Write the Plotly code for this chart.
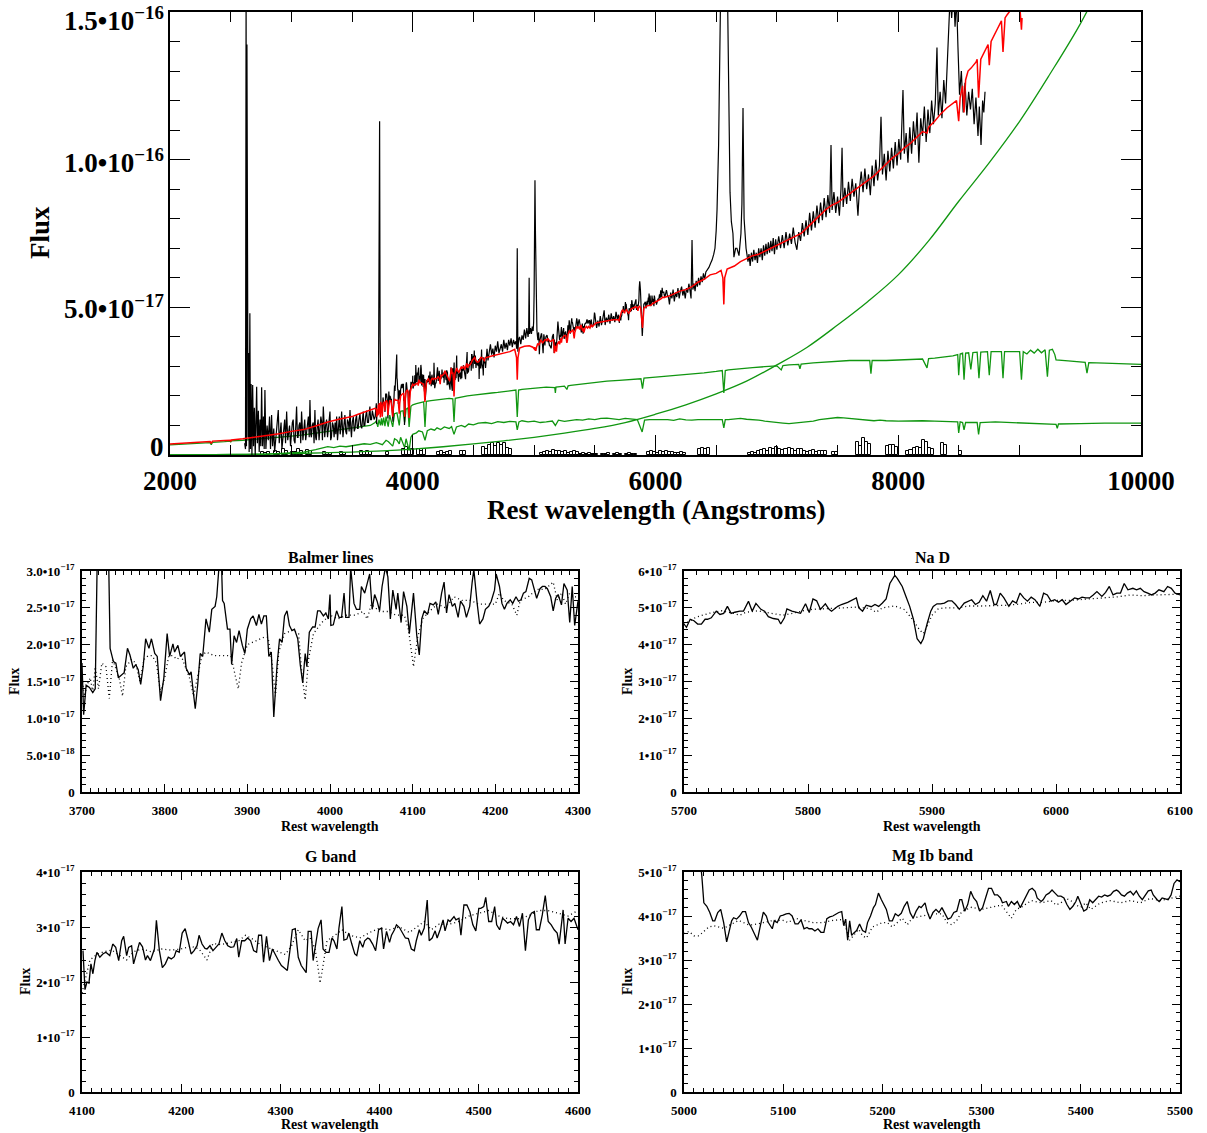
import plotly.graph_objects as go

# ---------------------------------------------------------------------------
# Flux values are in units of 1e-17 (erg/s/cm^2/A); wavelengths in Angstroms.
# ---------------------------------------------------------------------------

# ---- observed spectrum, blue end (continuum noise + MgII region) ----
obs_blue_lam = [2615, 2622, 2627, 2630, 2634, 2638, 2643, 2648, 2652, 2658, 2663, 2668, 2675, 2681, 2688, 2695,
                2702, 2708, 2714, 2720, 2728, 2735, 2742, 2748, 2755, 2762, 2770, 2776, 2782, 2790, 2800, 2810,
                2820, 2828, 2837, 2845, 2855, 2862, 2870, 2880, 2892, 2900, 2908, 2915, 2922, 2930, 2945, 2952,
                2961, 2970, 2978, 2985, 2993, 3000, 3008, 3015, 3022, 3030, 3043, 3050, 3055, 3063, 3070, 3077,
                3084, 3095, 3103, 3110, 3118, 3125, 3133, 3140, 3147, 3153, 3160, 3165, 3172, 3180, 3187, 3194,
                3200, 3205, 3212, 3220, 3228, 3235, 3243, 3250, 3256, 3263, 3270, 3275, 3282, 3290, 3298, 3305,
                3312, 3318, 3324, 3330, 3338, 3345, 3352, 3360, 3366, 3373, 3380, 3388, 3395, 3402, 3408, 3414,
                3420, 3425, 3433, 3441, 3448, 3455, 3462, 3470, 3476, 3483, 3490, 3495, 3502, 3510, 3518, 3525,
                3530, 3537, 3544, 3550, 3557, 3565, 3572, 3580, 3586, 3592, 3598, 3605, 3612, 3620, 3627, 3635,
                3641, 3647, 3653, 3660, 3667, 3675, 3682, 3690, 3696]
obs_blue_flux = [0.4, 0.2, 16.0, 0.3, 13.9, 5.9, 0.6, 3.45, 0.1, 4.8, 0.2, 2.4, 0.0, 2.37, 0.3, 1.6,
                 0.0, 1.1, 2.31, 0.4, 1.5, 0.1, 1.2, 0.3, 2.29, 0.3, 1.3, 0.2, 2.2, 0.2, 1.0, 0.5,
                 1.3, 0.2, 1.35, 0.3, 0.9, 0.1, 0.5, 1.1, 1.52, 0.4, 0.9, 1.1, 0.2, 0.6, 1.2, 0.4,
                 1.47, 0.5, 0.9, 1.0, 0.3, 0.7, 1.1, 1.2, 0.5, 0.4, 1.64, 0.6, 0.6, 1.0, 1.1, 0.4,
                 1.47, 0.5, 0.9, 1.2, 0.5, 0.7, 1.0, 1.3, 0.6, 1.86, 0.7, 0.6, 1.0, 1.1, 0.4, 1.52,
                 0.6, 0.5, 0.9, 1.2, 0.5, 0.8, 1.3, 1.1, 0.5, 1.64, 0.7, 0.6, 1.0, 1.2, 0.6, 0.9,
                 1.2, 1.47, 0.5, 0.6, 1.1, 1.0, 0.6, 1.1, 0.7, 1.3, 0.5, 0.9, 1.3, 0.7, 0.9, 1.47,
                 0.8, 0.6, 1.0, 1.35, 0.8, 0.7, 1.2, 1.1, 0.8, 1.52, 0.9, 0.6, 1.1, 1.3, 0.8, 0.9,
                 1.2, 1.35, 0.9, 0.9, 1.2, 1.4, 1.0, 0.9, 1.2, 1.47, 1.0, 1.0, 1.3, 1.5, 1.1, 1.1,
                 1.4, 1.64, 1.2, 1.2, 1.5, 1.35, 1.2, 1.3, 1.5]

# ---- Balmer-line window (3700-4300 A) ----
balmer_obs_lam = [3700, 3702, 3705, 3709, 3713, 3716, 3719, 3723, 3727, 3731, 3734, 3738, 3741, 3744, 3748, 3751,
                  3755, 3758, 3762, 3765, 3768, 3771, 3774, 3777, 3781, 3784, 3788, 3791, 3795, 3799, 3803, 3806,
                  3810, 3812, 3816, 3819, 3824, 3826, 3830, 3832, 3834, 3837, 3840, 3843, 3846, 3850, 3854, 3857,
                  3861, 3863, 3866, 3868, 3870, 3872, 3876, 3879, 3881, 3884, 3887, 3890, 3894, 3897, 3900, 3904,
                  3907, 3911, 3914, 3917, 3920, 3923, 3926, 3929, 3932, 3936, 3939, 3942, 3945, 3948, 3951, 3954,
                  3957, 3961, 3964, 3967, 3970, 3972, 3975, 3979, 3982, 3985, 3988, 3992, 3995, 3998, 4000, 4001,
                  4004, 4008, 4011, 4014, 4017, 4019, 4023, 4025, 4029, 4032, 4036, 4038, 4042, 4045, 4048, 4051,
                  4054, 4057, 4060, 4063, 4067, 4070, 4073, 4076, 4080, 4082, 4086, 4089, 4093, 4096, 4098, 4101,
                  4105, 4108, 4111, 4114, 4118, 4121, 4125, 4128, 4131, 4135, 4138, 4141, 4144, 4148, 4151, 4155,
                  4158, 4162, 4165, 4169, 4172, 4174, 4178, 4181, 4185, 4188, 4192, 4195, 4199, 4201, 4205, 4208,
                  4211, 4214, 4218, 4221, 4225, 4228, 4231, 4234, 4237, 4241, 4244, 4247, 4250, 4254, 4257, 4260,
                  4263, 4267, 4270, 4273, 4276, 4280, 4283, 4287, 4290, 4293, 4296, 4300]
balmer_obs_flux = [1.75, 1.05, 1.45, 1.42, 1.35, 1.40, 3.60, 7.5, 11.3, 4.0, 1.95, 1.77, 1.75, 1.55, 1.59, 1.62,
                   1.95, 1.86, 1.68, 1.73, 1.66, 1.46, 1.70, 2.08, 1.95, 2.08, 1.88, 1.84, 1.24, 1.55, 2.15, 1.84,
                   2.01, 1.90, 1.99, 1.84, 1.90, 1.68, 1.59, 1.63, 1.42, 1.13, 1.46, 1.88, 1.84, 2.35, 2.17, 2.48,
                   2.52, 2.65, 3.10, 3.40, 2.60, 2.56, 2.21, 2.21, 1.73, 2.12, 2.03, 2.19, 1.99, 1.88, 2.21, 2.35,
                   2.39, 2.26, 2.41, 2.28, 2.39, 2.39, 1.84, 1.90, 1.02, 1.73, 2.08, 2.03, 2.39, 2.46, 2.26, 2.19,
                   2.21, 2.08, 1.73, 1.48, 1.88, 1.70, 2.17, 2.24, 2.24, 2.46, 2.46, 2.39, 2.43, 2.35, 2.68, 2.26,
                   2.27, 2.46, 2.37, 2.37, 2.70, 2.37, 2.37, 3.05, 2.56, 2.48, 2.48, 2.79, 2.70, 2.83, 2.96, 2.48,
                   2.68, 2.59, 2.46, 2.79, 3.05, 2.92, 2.35, 2.74, 2.48, 2.70, 2.30, 2.72, 2.52, 2.15, 2.39, 2.70,
                   2.12, 1.86, 2.35, 2.46, 2.41, 2.56, 2.54, 2.58, 2.41, 2.70, 2.85, 2.43, 2.68, 2.52, 2.56, 2.37,
                   2.59, 2.52, 2.37, 2.52, 2.85, 3.02, 2.56, 2.28, 2.35, 2.48, 2.52, 2.59, 2.74, 2.96, 2.79, 2.56,
                   2.48, 2.56, 2.61, 2.56, 2.65, 2.59, 2.61, 2.70, 2.72, 2.90, 2.88, 2.74, 2.63, 2.76, 2.79, 2.79,
                   2.76, 2.65, 2.46, 2.63, 2.68, 2.54, 2.83, 2.74, 2.30, 2.79, 2.26, 2.59]
balmer_model_lam = [3700, 3703, 3706, 3710, 3713, 3716, 3720, 3724, 3729, 3733, 3737, 3740, 3745, 3749, 3753, 3760,
                    3765, 3770, 3775, 3780, 3785, 3790, 3795, 3800, 3805, 3810, 3815, 3820, 3825, 3830, 3835, 3840,
                    3845, 3850, 3860, 3870, 3880, 3885, 3889, 3893, 3900, 3910, 3920, 3925, 3930, 3934, 3938, 3945,
                    3955, 3962, 3966, 3970, 3974, 3980, 3990, 4000, 4010, 4020, 4030, 4040, 4045, 4050, 4060, 4070,
                    4080, 4090, 4095, 4101, 4106, 4112, 4120, 4130, 4140, 4150, 4160, 4170, 4180, 4190, 4200, 4205,
                    4210, 4220, 4226, 4230, 4240, 4250, 4260, 4265, 4270, 4275, 4280, 4285, 4290, 4295, 4300]
balmer_model_flux = [1.55, 1.30, 1.45, 1.55, 1.35, 1.70, 1.40, 1.75, 1.70, 1.27, 1.80, 1.70, 1.55, 1.30, 1.70, 1.80,
                     1.75, 1.50, 1.80, 1.85, 1.85, 1.75, 1.35, 1.55, 1.85, 1.85, 1.80, 1.85, 1.70, 1.55, 1.30, 1.60,
                     1.85, 1.90, 1.85, 1.85, 1.85, 1.60, 1.40, 1.75, 2.00, 2.05, 2.10, 2.10, 1.75, 1.30, 1.90, 2.15,
                     2.20, 2.15, 1.60, 1.25, 1.80, 2.15, 2.30, 2.40, 2.35, 2.40, 2.40, 2.45, 2.35, 2.55, 2.45, 2.45,
                     2.40, 2.40, 2.20, 1.70, 2.10, 2.35, 2.45, 2.55, 2.50, 2.65, 2.60, 2.60, 2.55, 2.55, 2.55, 2.70,
                     2.60, 2.55, 2.40, 2.60, 2.65, 2.75, 2.75, 2.80, 2.85, 2.60, 2.70, 2.55, 2.70, 2.65, 2.65]

# ---- G-band window (4100-4600 A) ----
gband_obs_lam = [4101, 4103, 4105, 4107, 4109, 4111, 4113, 4115, 4118, 4121, 4124, 4128, 4131, 4134, 4137, 4140,
                 4142, 4145, 4147, 4150, 4152, 4155, 4158, 4161, 4164, 4166, 4169, 4173, 4175, 4178, 4181, 4184,
                 4187, 4190, 4193, 4195, 4198, 4201, 4204, 4207, 4210, 4213, 4216, 4218, 4221, 4224, 4226, 4229,
                 4232, 4235, 4238, 4241, 4244, 4247, 4250, 4253, 4256, 4258, 4261, 4264, 4267, 4270, 4273, 4276,
                 4278, 4281, 4283, 4286, 4289, 4292, 4295, 4298, 4301, 4303, 4307, 4310, 4312, 4315, 4318, 4321,
                 4324, 4326, 4328, 4331, 4333, 4336, 4338, 4341, 4343, 4346, 4349, 4352, 4354, 4357, 4359, 4362,
                 4364, 4367, 4369, 4372, 4375, 4377, 4380, 4383, 4385, 4388, 4390, 4393, 4396, 4399, 4402, 4404,
                 4407, 4410, 4412, 4415, 4417, 4420, 4423, 4426, 4429, 4432, 4435, 4437, 4440, 4442, 4445, 4448,
                 4450, 4453, 4456, 4458, 4461, 4464, 4466, 4469, 4471, 4475, 4477, 4480, 4482, 4485, 4488, 4491,
                 4494, 4497, 4500, 4502, 4505, 4507, 4510, 4513, 4516, 4518, 4521, 4524, 4527, 4529, 4532, 4535,
                 4538, 4541, 4544, 4547, 4550, 4553, 4556, 4558, 4561, 4564, 4567, 4570, 4573, 4576, 4579, 4581,
                 4585, 4587, 4590, 4593, 4596, 4600]
gband_obs_flux = [2.57, 1.86, 2.00, 1.98, 2.33, 2.15, 2.39, 2.54, 2.45, 2.51, 2.54, 2.48, 2.69, 2.63, 2.39, 2.75,
                  2.83, 2.48, 2.63, 2.66, 2.33, 2.51, 2.72, 2.64, 2.40, 2.48, 2.39, 2.60, 3.12, 2.57, 2.26, 2.33,
                  2.45, 2.42, 2.46, 2.57, 2.54, 2.89, 2.97, 2.75, 2.51, 2.57, 2.66, 2.85, 2.69, 2.61, 2.60, 2.66,
                  2.57, 2.63, 2.69, 2.89, 2.75, 2.66, 2.63, 2.64, 2.79, 2.45, 2.75, 2.75, 2.80, 2.75, 2.57, 2.54,
                  2.85, 2.85, 2.36, 2.83, 2.39, 2.60, 2.48, 2.39, 2.30, 2.27, 2.21, 2.63, 2.95, 2.97, 2.45, 2.30,
                  2.21, 2.17, 2.92, 2.92, 2.39, 2.78, 2.97, 3.13, 2.60, 2.54, 2.54, 2.80, 2.75, 2.60, 2.98, 3.37,
                  2.76, 2.78, 2.89, 2.69, 2.51, 2.48, 2.75, 2.63, 2.75, 2.80, 2.78, 2.69, 2.57, 2.95, 2.98, 2.60,
                  2.92, 2.72, 2.85, 2.95, 3.04, 2.99, 2.89, 2.80, 2.79, 2.60, 2.57, 2.75, 2.95, 2.85, 2.98, 3.49,
                  2.75, 2.80, 2.93, 2.80, 2.95, 3.13, 2.93, 3.13, 3.10, 3.19, 3.13, 3.16, 2.85, 3.40, 3.40, 3.28,
                  3.04, 2.93, 3.34, 3.34, 3.37, 3.54, 3.10, 3.10, 3.37, 3.04, 2.95, 3.16, 3.11, 3.07, 3.10, 3.04,
                  3.19, 3.01, 3.25, 2.57, 3.13, 3.25, 3.28, 2.95, 2.95, 3.22, 3.57, 3.10, 3.04, 2.95, 2.89, 2.69,
                  3.31, 2.69, 3.16, 3.10, 3.16, 2.95]
gband_model_lam = [4100, 4104, 4108, 4115, 4122, 4130, 4138, 4145, 4152, 4160, 4170, 4180, 4190, 4200, 4210, 4218,
                   4226, 4232, 4240, 4250, 4258, 4265, 4272, 4280, 4290, 4298, 4305, 4311, 4318, 4325, 4330, 4335,
                   4338, 4340, 4343, 4347, 4355, 4362, 4370, 4380, 4390, 4400, 4410, 4420, 4430, 4438, 4445, 4452,
                   4460, 4470, 4480, 4490, 4500, 4510, 4520, 4530, 4540, 4550, 4560, 4570, 4580, 4590, 4600]
gband_model_flux = [1.80, 2.10, 2.40, 2.50, 2.55, 2.58, 2.48, 2.40, 2.55, 2.60, 2.55, 2.60, 2.58, 2.60, 2.65, 2.60,
                    2.40, 2.70, 2.68, 2.72, 2.75, 2.85, 2.78, 2.68, 2.60, 2.55, 2.50, 2.65, 2.95, 2.75, 2.80, 2.60,
                    2.25, 1.98, 2.30, 2.75, 2.85, 2.95, 2.85, 2.80, 2.90, 2.98, 2.95, 3.00, 2.90, 3.00, 3.10, 2.95,
                    3.05, 3.05, 3.10, 3.20, 3.25, 3.30, 3.20, 3.15, 3.15, 3.20, 3.30, 3.30, 3.25, 3.20, 3.30]

# ---- observed spectrum between the G band and Mg Ib windows (Hbeta, [OIII]) ----
obs_mid_lam = [4605, 4612, 4620, 4630, 4640, 4650, 4660, 4670, 4680, 4690, 4700, 4710, 4720, 4730, 4740, 4750,
               4760, 4770, 4780, 4790, 4800, 4810, 4820, 4830, 4840, 4850, 4856, 4861, 4866, 4872, 4880, 4890,
               4900, 4910, 4920, 4930, 4940, 4950, 4955, 4959, 4963, 4970, 4978, 4985, 4992, 4996]
obs_mid_flux = [3.3, 3.6, 3.2, 3.5, 3.75, 3.4, 3.6, 3.3, 3.7, 3.5, 3.85, 3.45, 3.6, 3.75, 3.5, 3.9,
                3.6, 3.8, 3.55, 3.9, 3.7, 3.95, 3.65, 3.9, 3.75, 3.85, 3.6, 7.0, 3.5, 3.9, 4.0, 3.75,
                4.05, 3.9, 4.25, 3.95, 4.3, 4.0, 4.2, 6.0, 4.1, 4.3, 4.1, 4.35, 4.2, 4.5]

# ---- Mg Ib window (5000-5500 A) ----
mg_obs_lam = [5000, 5003, 5007, 5011, 5015, 5018, 5020, 5023, 5026, 5029, 5031, 5034, 5037, 5040, 5043, 5045,
              5048, 5050, 5053, 5056, 5059, 5062, 5065, 5068, 5071, 5074, 5077, 5080, 5083, 5085, 5089, 5091,
              5094, 5097, 5100, 5103, 5106, 5109, 5112, 5115, 5118, 5121, 5124, 5126, 5129, 5132, 5135, 5138,
              5141, 5144, 5147, 5150, 5153, 5156, 5159, 5161, 5163, 5165, 5167, 5169, 5171, 5174, 5177, 5180,
              5183, 5185, 5188, 5191, 5193, 5196, 5199, 5202, 5204, 5207, 5210, 5213, 5216, 5219, 5222, 5225,
              5228, 5231, 5234, 5237, 5239, 5243, 5245, 5248, 5251, 5254, 5257, 5260, 5263, 5266, 5269, 5272,
              5275, 5278, 5280, 5283, 5286, 5289, 5292, 5295, 5298, 5301, 5304, 5307, 5310, 5313, 5316, 5319,
              5321, 5325, 5327, 5330, 5333, 5336, 5339, 5342, 5345, 5348, 5351, 5354, 5356, 5360, 5362, 5365,
              5368, 5371, 5374, 5377, 5380, 5383, 5386, 5389, 5392, 5395, 5397, 5401, 5403, 5406, 5409, 5412,
              5415, 5418, 5421, 5424, 5427, 5430, 5433, 5436, 5438, 5441, 5444, 5447, 5450, 5453, 5456, 5459,
              5462, 5465, 5468, 5471, 5473, 5477, 5479, 5482, 5485, 5488, 5491, 5494, 5497, 5500]
mg_obs_flux = [5.5, 7.0, 9.3, 7.5, 5.6, 4.9, 4.30, 4.22, 4.08, 3.89, 3.89, 4.08, 4.15, 3.85, 3.41, 3.60,
               3.89, 3.96, 3.93, 4.00, 4.10, 4.10, 3.85, 3.74, 3.60, 3.45, 3.78, 4.09, 4.00, 3.85, 3.71, 3.89,
               3.85, 4.00, 4.02, 4.05, 4.06, 4.00, 3.82, 3.82, 3.91, 3.71, 3.74, 3.71, 3.71, 3.66, 3.71, 3.63,
               3.63, 3.94, 3.98, 4.00, 4.04, 4.08, 4.10, 3.78, 3.93, 3.45, 3.89, 3.56, 3.61, 3.67, 3.82, 3.67,
               3.63, 3.85, 4.00, 4.19, 4.26, 4.52, 4.37, 4.22, 4.15, 3.89, 3.89, 4.05, 4.00, 4.06, 4.22, 4.33,
               4.07, 3.95, 4.11, 4.22, 4.19, 4.30, 4.11, 3.93, 4.08, 4.15, 4.08, 4.19, 4.04, 3.93, 3.96, 4.08,
               4.11, 4.37, 4.37, 4.11, 4.26, 4.56, 4.41, 4.33, 4.11, 4.19, 4.41, 4.63, 4.63, 4.48, 4.48, 4.41,
               4.30, 4.33, 4.22, 4.33, 4.26, 4.33, 4.19, 4.33, 4.45, 4.59, 4.63, 4.56, 4.41, 4.33, 4.37, 4.48,
               4.52, 4.59, 4.52, 4.45, 4.45, 4.41, 4.26, 4.15, 4.22, 4.33, 4.45, 4.22, 4.11, 4.15, 4.37, 4.30,
               4.37, 4.45, 4.43, 4.48, 4.45, 4.48, 4.56, 4.59, 4.56, 4.48, 4.45, 4.52, 4.56, 4.48, 4.57, 4.45,
               4.37, 4.48, 4.57, 4.59, 4.48, 4.37, 4.33, 4.41, 4.39, 4.37, 4.48, 4.74, 4.82, 4.78]
mg_model_lam = [5000, 5005, 5010, 5015, 5020, 5025, 5030, 5040, 5045, 5050, 5055, 5060, 5065, 5070, 5080, 5090,
                5100, 5105, 5112, 5120, 5130, 5140, 5150, 5160, 5163, 5167, 5172, 5176, 5180, 5184, 5190, 5200,
                5205, 5210, 5220, 5225, 5230, 5240, 5250, 5260, 5265, 5270, 5275, 5280, 5290, 5300, 5310, 5320,
                5325, 5330, 5335, 5340, 5350, 5360, 5370, 5375, 5380, 5385, 5390, 5395, 5400, 5405, 5410, 5420,
                5430, 5440, 5450, 5460, 5470, 5480, 5490, 5500]
mg_model_flux = [3.60, 3.65, 3.55, 3.55, 3.65, 3.75, 3.78, 3.72, 3.78, 3.85, 3.90, 3.85, 3.80, 3.80, 3.85, 3.90,
                 3.90, 3.85, 3.95, 3.90, 3.85, 3.85, 3.90, 3.92, 3.75, 3.45, 3.60, 3.70, 3.55, 3.50, 3.75, 3.85,
                 3.85, 3.75, 3.95, 3.80, 3.95, 4.00, 4.05, 4.05, 3.85, 3.80, 3.90, 4.10, 4.20, 4.15, 4.20, 4.25,
                 4.10, 3.95, 4.15, 4.20, 4.35, 4.30, 4.35, 4.25, 4.30, 4.40, 4.35, 4.25, 4.20, 4.30, 4.15, 4.30,
                 4.35, 4.30, 4.35, 4.30, 4.40, 4.35, 4.40, 4.45]

# ---- observed spectrum between the Mg Ib and Na D windows ----
obs_5500_lam = [5505, 5515, 5525, 5535, 5545, 5555, 5565, 5577, 5585, 5595, 5605, 5615, 5625, 5635, 5645, 5655,
                5665, 5675, 5685, 5695]
obs_5500_flux = [4.6, 4.3, 4.55, 4.35, 4.7, 4.4, 4.6, 4.9, 4.4, 4.65, 4.5, 4.75, 4.45, 4.8, 4.55, 4.7,
                 4.5, 4.85, 4.6, 4.75]

# ---- Na D window (5700-6100 A) ----
nad_obs_lam = [5700, 5702, 5705, 5708, 5711, 5714, 5717, 5719, 5722, 5726, 5729, 5732, 5735, 5738, 5741, 5745,
               5748, 5752, 5755, 5758, 5762, 5765, 5768, 5772, 5776, 5778, 5781, 5783, 5787, 5790, 5794, 5798,
               5801, 5804, 5807, 5810, 5814, 5817, 5819, 5824, 5827, 5832, 5837, 5839, 5841, 5844, 5847, 5851,
               5854, 5857, 5860, 5863, 5866, 5870, 5872, 5876, 5879, 5882, 5885, 5888, 5891, 5893, 5896, 5899,
               5901, 5904, 5907, 5910, 5913, 5916, 5919, 5922, 5926, 5929, 5932, 5935, 5938, 5941, 5944, 5947,
               5950, 5952, 5955, 5958, 5962, 5965, 5968, 5971, 5974, 5977, 5980, 5983, 5987, 5990, 5993, 5996,
               5999, 6002, 6005, 6008, 6012, 6015, 6018, 6021, 6024, 6027, 6030, 6033, 6037, 6040, 6043, 6046,
               6049, 6052, 6055, 6058, 6062, 6065, 6068, 6071, 6074, 6077, 6080, 6083, 6087, 6090, 6093, 6096,
               6100]
nad_obs_flux = [4.56, 4.47, 4.69, 4.65, 4.56, 4.56, 4.69, 4.69, 4.73, 4.91, 4.82, 4.85, 5.04, 4.85, 4.88, 4.91,
                4.91, 5.18, 4.91, 5.12, 4.96, 4.91, 4.76, 4.71, 4.69, 4.56, 4.73, 4.97, 4.91, 4.88, 4.85, 5.11,
                4.87, 5.24, 5.19, 4.96, 5.11, 4.96, 4.91, 5.04, 5.09, 5.15, 5.22, 5.27, 5.00, 4.91, 5.07, 5.03,
                5.09, 5.04, 5.13, 5.24, 5.66, 5.88, 5.80, 5.58, 5.31, 5.04, 4.69, 4.16, 4.03, 4.16, 4.56, 4.91,
                5.04, 5.11, 5.11, 5.13, 5.19, 5.19, 5.09, 4.96, 5.13, 5.18, 5.22, 5.09, 5.15, 5.33, 5.18, 5.47,
                5.09, 5.09, 5.40, 5.27, 5.04, 5.19, 5.13, 5.40, 5.27, 5.18, 5.29, 5.22, 5.04, 5.40, 5.35, 5.18,
                5.22, 5.15, 5.22, 5.09, 5.20, 5.27, 5.24, 5.29, 5.27, 5.27, 5.35, 5.44, 5.31, 5.42, 5.58, 5.35,
                5.40, 5.40, 5.66, 5.49, 5.53, 5.49, 5.53, 5.44, 5.40, 5.35, 5.40, 5.49, 5.44, 5.58, 5.53, 5.40,
                5.35]
nad_model_lam = [5700, 5705, 5710, 5720, 5730, 5740, 5745, 5750, 5760, 5770, 5780, 5790, 5800, 5810, 5820, 5830,
                 5840, 5850, 5855, 5860, 5870, 5878, 5885, 5890, 5893, 5896, 5900, 5905, 5910, 5920, 5930, 5940,
                 5950, 5960, 5970, 5980, 5990, 6000, 6010, 6020, 6030, 6040, 6050, 6060, 6070, 6080, 6090, 6100]
nad_model_flux = [4.55, 4.65, 4.75, 4.85, 4.92, 4.85, 4.80, 4.88, 4.92, 4.85, 4.80, 4.87, 4.95, 4.97, 4.98, 5.00,
                  5.02, 4.98, 4.88, 5.00, 5.05, 4.95, 4.65, 4.40, 4.30, 4.50, 4.80, 4.97, 5.00, 5.00, 5.05, 5.05,
                  5.05, 5.07, 5.10, 5.15, 5.15, 5.20, 5.20, 5.22, 5.25, 5.27, 5.30, 5.35, 5.33, 5.35, 5.35, 5.37]

# ---- observed spectrum, red end ([OI], Halpha+[NII], [SII], far red) ----
obs_red_lam = [6105, 6115, 6125, 6135, 6145, 6155, 6165, 6175, 6185, 6195, 6205, 6215, 6225, 6235, 6245, 6255,
               6265, 6275, 6285, 6293, 6301, 6308, 6317, 6326, 6335, 6345, 6355, 6365, 6375, 6385, 6395, 6405,
               6415, 6424, 6440, 6455, 6466, 6480, 6490, 6500, 6507, 6520, 6531, 6545, 6563, 6580, 6597, 6606,
               6614, 6625, 6638, 6646, 6660, 6671, 6688, 6704, 6712, 6721, 6730, 6746, 6754, 6762, 6770, 6780,
               6790, 6800, 6810, 6820, 6830, 6840, 6850, 6860, 6870, 6880, 6890, 6900, 6910, 6920, 6930, 6940,
               6950, 6960, 6970, 6980, 6990, 7000, 7015, 7030, 7045, 7060, 7075, 7090, 7105, 7120, 7135, 7150,
               7165, 7180, 7195, 7210, 7225, 7240, 7255, 7270, 7285, 7300, 7315, 7330, 7345, 7360, 7375, 7390,
               7405, 7420, 7435, 7446, 7455, 7470, 7485, 7500, 7515, 7528, 7537, 7546, 7560, 7575, 7590, 7605,
               7620, 7635, 7650, 7668, 7680, 7695, 7710, 7725, 7740, 7755, 7770, 7785, 7800, 7815, 7830, 7845,
               7858, 7870, 7885, 7900, 7915, 7930, 7945, 7960, 7975, 7990, 8005, 8020, 8039, 8050, 8065, 8080,
               8095, 8110, 8125, 8140, 8155, 8170, 8185, 8200, 8215, 8230, 8245, 8260, 8275, 8290, 8305, 8319,
               8330, 8345, 8360, 8375, 8390, 8402, 8415, 8428, 8440, 8455, 8468, 8480, 8492, 8505, 8520, 8535,
               8550, 8565, 8580, 8595, 8610, 8625, 8640, 8657, 8668, 8682, 8695, 8705, 8715]
obs_red_flux = [5.40, 5.10, 5.50, 5.30, 5.60, 5.20, 5.50, 5.35, 5.65, 5.30, 5.55, 5.70, 5.40, 5.60, 5.30, 5.65,
                5.50, 5.80, 5.55, 5.30, 7.28, 5.60, 5.80, 5.55, 5.90, 5.70, 6.00, 5.75, 6.05, 5.85, 6.15, 5.95,
                6.20, 6.26, 6.35, 6.50, 6.60, 6.80, 7.00, 7.60, 8.30, 10.5, 14.0, 19.0, 24.0, 20.0, 15.0, 11.0,
                8.90, 7.90, 7.50, 6.70, 7.00, 7.00, 6.75, 7.50, 8.50, 11.75, 8.00, 7.00, 6.70, 6.55, 6.80, 6.40,
                6.85, 6.55, 6.95, 6.60, 6.85, 6.50, 7.00, 6.70, 7.00, 6.60, 7.10, 6.75, 7.15, 6.80, 7.20, 6.85,
                7.25, 6.90, 7.35, 6.80, 7.30, 6.95, 7.40, 7.00, 7.45, 7.00, 7.55, 7.10, 7.50, 7.15, 7.70, 7.20,
                6.95, 7.55, 7.25, 7.85, 7.40, 7.95, 7.45, 8.20, 7.60, 8.25, 7.70, 8.45, 7.85, 8.55, 7.95, 8.70,
                8.05, 8.80, 8.20, 10.50, 8.30, 8.90, 8.20, 8.75, 8.10, 9.00, 10.40, 8.40, 9.05, 8.50, 9.25, 8.60,
                9.35, 8.75, 9.20, 8.10, 9.00, 9.60, 8.90, 9.70, 9.00, 9.50, 8.80, 9.80, 9.10, 10.00, 9.30, 9.80,
                11.45, 9.50, 10.20, 9.30, 10.30, 9.60, 10.40, 9.70, 10.60, 9.80, 10.70, 10.00, 12.36, 10.20, 10.90, 9.90,
                11.10, 10.20, 11.30, 10.50, 11.60, 9.90, 11.40, 10.80, 11.80, 10.60, 11.70, 10.90, 12.00, 11.20, 11.90, 13.80,
                11.50, 12.30, 11.40, 12.70, 11.90, 13.00, 14.30, 15.60, 14.80, 15.80, 14.50, 15.50, 13.80, 12.20, 13.00, 11.60,
                12.60, 11.50, 12.30, 11.70, 12.40, 11.20, 12.10, 10.80, 11.80, 10.50, 12.00, 11.60, 12.30]

# ---- best-fit model, outside the zoom windows ----
model_blue_lam = [2000, 2100, 2200, 2300, 2330, 2340, 2350, 2450, 2495, 2500, 2505, 2600, 2700, 2800, 2900, 3000,
                  3100, 3200, 3300, 3400, 3500, 3550, 3600, 3650, 3690]
model_blue_flux = [0.37, 0.39, 0.42, 0.45, 0.46, 0.39, 0.47, 0.49, 0.50, 0.46, 0.51, 0.55, 0.60, 0.65, 0.72, 0.80,
                   0.86, 0.98, 1.12, 1.22, 1.30, 1.38, 1.45, 1.52, 1.58]
model_mid_lam = [4610, 4650, 4700, 4750, 4800, 4840, 4855, 4861, 4867, 4880, 4920, 4960, 4990]
model_mid_flux = [3.30, 3.35, 3.40, 3.45, 3.50, 3.58, 3.30, 2.55, 3.30, 3.62, 3.68, 3.70, 3.65]
model_5500_lam = [5510, 5550, 5600, 5650, 5690]
model_5500_flux = [4.47, 4.50, 4.55, 4.58, 4.58]
model_red_lam = [6110, 6150, 6200, 6250, 6300, 6350, 6400, 6450, 6500, 6540, 6555, 6563, 6570, 6590, 6650, 6700,
                 6750, 6800, 6850, 6900, 6950, 7000, 7050, 7100, 7150, 7200, 7250, 7300, 7350, 7400, 7450, 7500,
                 7550, 7600, 7650, 7700, 7750, 7800, 7850, 7900, 7950, 8000, 8050, 8100, 8150, 8200, 8237, 8250,
                 8300, 8350, 8400, 8450, 8480, 8498, 8510, 8530, 8542, 8555, 8575, 8600, 8640, 8650, 8662, 8680,
                 8715, 8740, 8750, 8765, 8813, 8850, 8863, 8880, 8896, 8950, 9000, 9015, 9020]
model_red_flux = [5.38, 5.45, 5.55, 5.60, 5.70, 5.85, 5.95, 6.10, 6.15, 6.25, 6.00, 5.10, 6.00, 6.30, 6.40, 6.55,
                  6.65, 6.75, 6.80, 6.90, 7.00, 7.10, 7.20, 7.30, 7.40, 7.50, 7.70, 7.90, 8.10, 8.30, 8.45, 8.55,
                  8.70, 8.85, 9.00, 9.15, 9.30, 9.45, 9.65, 9.85, 10.05, 10.20, 10.40, 10.55, 10.75, 10.95, 10.90, 11.10,
                  11.30, 11.55, 11.75, 11.90, 12.00, 11.30, 12.10, 12.50, 11.60, 12.70, 13.00, 13.10, 13.30, 13.40, 12.10, 13.40,
                  13.70, 13.90, 13.20, 14.00, 14.40, 14.70, 13.65, 14.80, 14.90, 15.20, 15.30, 14.40, 14.80]

# ---- model components ----
old_pop_lam = [2000, 2100, 2200, 2300, 2330, 2340, 2350, 2450, 2495, 2500, 2505, 2600, 2700, 2800, 2900, 3000,
               3100, 3200, 3300, 3400, 3500, 3600, 3650, 3690, 3700, 3712, 3722, 3734, 3742, 3750, 3760, 3771,
               3780, 3798, 3810, 3835, 3850, 3870, 3889, 3900, 3920, 3933, 3945, 3960, 3970, 3985, 4000, 4030,
               4060, 4090, 4101, 4112, 4150, 4200, 4250, 4300, 4330, 4340, 4350, 4400, 4450, 4500, 4550, 4600,
               4650, 4700, 4750, 4800, 4850, 4861, 4872, 4900, 4950, 5000, 5050, 5100, 5170, 5175, 5180, 5250,
               5270, 5280, 5300, 5400, 5500, 5600, 5700, 5800, 5880, 5893, 5905, 6000, 6100, 6200, 6300, 6400,
               6500, 6550, 6563, 6575, 6600, 6700, 6800, 6900, 7000, 7036, 7050, 7100, 7180, 7190, 7200, 7300,
               7400, 7500, 7600, 7700, 7765, 7775, 7785, 7900, 8000, 8100, 8200, 8237, 8250, 8300, 8400, 8450,
               8490, 8498, 8510, 8530, 8542, 8555, 8580, 8598, 8615, 8650, 8665, 8680, 8735, 8750, 8765, 8850,
               8863, 8876, 9000, 9015, 9030, 9060, 9090, 9120, 9150, 9180, 9210, 9229, 9245, 9270, 9290, 9300,
               9400, 9500, 9540, 9555, 9570, 9700, 9850, 10000]
old_pop_flux = [0.34, 0.36, 0.39, 0.41, 0.42, 0.35, 0.43, 0.45, 0.47, 0.43, 0.48, 0.50, 0.53, 0.56, 0.60, 0.64,
                0.68, 0.74, 0.80, 0.86, 0.92, 0.98, 1.00, 1.10, 1.15, 0.95, 1.20, 1.00, 1.24, 1.00, 1.27, 0.98,
                1.30, 0.96, 1.35, 0.95, 1.40, 1.43, 1.00, 1.48, 1.50, 1.10, 1.55, 1.60, 0.95, 1.65, 1.70, 1.74,
                1.78, 1.80, 0.95, 1.82, 1.84, 1.87, 1.90, 1.92, 1.90, 1.12, 1.92, 1.97, 2.00, 2.03, 2.06, 2.08,
                2.10, 2.12, 2.15, 2.17, 2.20, 1.29, 2.20, 2.22, 2.24, 2.26, 2.28, 2.30, 2.28, 2.10, 2.30, 2.33,
                2.22, 2.34, 2.36, 2.41, 2.46, 2.50, 2.53, 2.56, 2.58, 2.25, 2.60, 2.64, 2.67, 2.71, 2.74, 2.78,
                2.83, 2.86, 2.10, 2.86, 2.88, 2.93, 2.96, 2.99, 3.02, 2.88, 3.03, 3.05, 3.07, 2.92, 3.08, 3.12,
                3.15, 3.18, 3.20, 3.20, 3.20, 2.75, 3.20, 3.20, 3.22, 3.24, 3.25, 2.95, 3.26, 3.28, 3.32, 3.36,
                3.40, 2.70, 3.42, 3.45, 2.55, 3.45, 3.46, 2.90, 3.47, 3.48, 2.60, 3.48, 3.50, 2.70, 3.50, 3.50,
                2.60, 3.50, 3.50, 2.55, 3.50, 3.42, 3.55, 3.45, 3.58, 3.46, 3.56, 2.65, 3.55, 3.58, 3.40, 3.22,
                3.19, 3.16, 3.14, 2.77, 3.13, 3.11, 3.09, 3.07]

young_pop_lam = [2000, 2600, 2700, 2800, 2900, 3000, 3100, 3200, 3250, 3300, 3350, 3400, 3450, 3500, 3550, 3600,
                 3650, 3700, 3750, 3780, 3800, 3835, 3850, 3870, 3889, 3900, 3933, 3945, 3970, 3985, 4000, 4030,
                 4050, 4080, 4101, 4120, 4150, 4180, 4200, 4230, 4260, 4300, 4320, 4340, 4360, 4400, 4430, 4460,
                 4500, 4540, 4600, 4650, 4700, 4750, 4800, 4850, 4861, 4875, 4900, 4950, 5000, 5050, 5100, 5150,
                 5175, 5200, 5250, 5300, 5350, 5400, 5450, 5500, 5550, 5600, 5650, 5700, 5750, 5800, 5850, 5890,
                 5910, 5950, 6000, 6050, 6100, 6150, 6200, 6250, 6300, 6350, 6400, 6450, 6500, 6550, 6563, 6575,
                 6600, 6650, 6700, 6750, 6800, 6850, 6900, 6950, 7000, 7050, 7100, 7150, 7200, 7250, 7300, 7350,
                 7400, 7450, 7500, 7550, 7600, 7650, 7700, 7750, 7800, 7850, 7900, 8000, 8100, 8200, 8300, 8400,
                 8490, 8498, 8510, 8530, 8542, 8555, 8650, 8662, 8675, 8800, 8900, 9000, 9100, 9200, 9300, 9310,
                 9320, 9500, 9700, 10000]
young_pop_flux = [0.00, 0.00, 0.02, 0.03, 0.05, 0.07, 0.10, 0.18, 0.24, 0.28, 0.25, 0.30, 0.28, 0.32, 0.35, 0.38,
                  0.36, 0.42, 0.35, 0.50, 0.45, 0.30, 0.55, 0.50, 0.38, 0.60, 0.25, 0.55, 0.15, 0.60, 0.70, 0.75,
                  0.82, 0.78, 0.50, 0.82, 0.88, 0.84, 0.92, 0.86, 0.95, 0.90, 0.96, 0.70, 0.95, 1.00, 0.95, 1.05,
                  1.02, 1.08, 1.10, 1.06, 1.13, 1.10, 1.14, 1.12, 0.85, 1.12, 1.16, 1.12, 1.15, 1.10, 1.12, 1.15,
                  1.00, 1.18, 1.14, 1.16, 1.20, 1.18, 1.22, 1.20, 1.24, 1.25, 1.22, 1.20, 1.24, 1.22, 1.20, 0.78,
                  1.18, 1.20, 1.20, 1.18, 1.20, 1.17, 1.22, 1.19, 1.18, 1.20, 1.20, 1.19, 1.20, 1.20, 0.92, 1.20,
                  1.20, 1.22, 1.24, 1.21, 1.20, 1.18, 1.15, 1.12, 1.10, 1.08, 1.06, 1.08, 1.10, 1.12, 1.15, 1.20,
                  1.22, 1.25, 1.27, 1.26, 1.24, 1.22, 1.20, 1.18, 1.16, 1.18, 1.16, 1.15, 1.16, 1.16, 1.15, 1.13,
                  1.12, 0.75, 1.12, 1.10, 0.85, 1.10, 1.10, 0.70, 1.10, 1.12, 1.10, 1.10, 1.08, 1.06, 1.04, 0.90,
                  1.05, 1.06, 1.08, 1.08]

power_law_lam = [2000, 2250, 2500, 2750, 3000, 3250, 3500, 3750, 4000, 4250, 4500, 4750, 5000, 5250, 5500, 5750,
                 6000, 6250, 6500, 6750, 7000, 7250, 7500, 7750, 8000, 8250, 8500, 8750, 9000, 9250, 9500, 9750]
power_law_flux = [0.00, 0.01, 0.02, 0.03, 0.05, 0.07, 0.10, 0.14, 0.20, 0.28, 0.38, 0.48, 0.60, 0.74, 0.90, 1.10,
                  1.38, 1.70, 2.07, 2.50, 3.05, 3.65, 4.40, 5.20, 6.10, 7.25, 8.60, 9.90, 11.30, 12.90, 14.60, 16.60]

# ---- masked-pixel histogram along the bottom of the full spectrum ----
mask_lam = [2765, 2790, 2815, 2870, 2895, 2935, 2960, 3010, 3035, 3060, 3085, 3135, 3160, 3270, 3295, 3320,
            3410, 3435, 3575, 3600, 3625, 3650, 3795, 3920, 3945, 3970, 3995, 4050, 4075, 4100, 4210, 4235,
            4260, 4285, 4310, 4400, 4425, 4580, 4605, 4630, 4655, 4680, 4705, 4730, 4755, 4780, 4805, 5060,
            5085, 5110, 5135, 5160, 5185, 5210, 5235, 5260, 5285, 5310, 5335, 5360, 5385, 5410, 5435, 5460,
            5485, 5510, 5560, 5585, 5610, 5660, 5685, 5710, 5760, 5785, 5810, 5835, 5940, 5965, 5990, 6015,
            6040, 6065, 6090, 6115, 6140, 6165, 6190, 6215, 6240, 6360, 6385, 6410, 6435, 6775, 6800, 6825,
            6850, 6875, 6900, 6925, 6950, 6975, 7000, 7025, 7050, 7075, 7100, 7125, 7150, 7175, 7200, 7225,
            7250, 7275, 7300, 7325, 7350, 7375, 7400, 7470, 7495, 7665, 7690, 7715, 7740, 7765, 7910, 7935,
            7960, 7985, 8080, 8105, 8130, 8155, 8180, 8205, 8230, 8255, 8280, 8365, 8390, 8515]
mask_height = [0.09, 0.06, 0.09, 0.14, 0.10, 0.20, 0.14, 0.11, 0.09, 0.22, 0.15, 0.17, 0.12, 0.09, 0.06, 0.08,
               0.10, 0.07, 0.12, 0.09, 0.12, 0.10, 0.10, 0.20, 0.28, 0.17, 0.22, 0.22, 0.15, 0.20, 0.10, 0.12,
               0.08, 0.10, 0.12, 0.15, 0.12, 0.28, 0.20, 0.35, 0.40, 0.30, 0.40, 0.34, 0.40, 0.25, 0.20, 0.06,
               0.10, 0.15, 0.10, 0.17, 0.12, 0.14, 0.10, 0.12, 0.08, 0.10, 0.12, 0.09, 0.05, 0.07, 0.05, 0.08,
               0.04, 0.05, 0.05, 0.04, 0.06, 0.05, 0.06, 0.04, 0.05, 0.06, 0.05, 0.04, 0.10, 0.14, 0.10, 0.08,
               0.12, 0.10, 0.13, 0.09, 0.11, 0.08, 0.06, 0.10, 0.08, 0.20, 0.25, 0.22, 0.25, 0.08, 0.10, 0.08,
               0.12, 0.17, 0.20, 0.15, 0.25, 0.22, 0.28, 0.20, 0.18, 0.22, 0.25, 0.20, 0.15, 0.22, 0.20, 0.12,
               0.10, 0.14, 0.17, 0.10, 0.12, 0.15, 0.12, 0.10, 0.10, 0.45, 0.30, 0.56, 0.45, 0.38, 0.30, 0.34,
               0.34, 0.28, 0.15, 0.17, 0.25, 0.28, 0.25, 0.50, 0.45, 0.25, 0.20, 0.40, 0.35, 0.14]

# main-panel flux tick values and their labels
main_flux_ticks = [0, 5, 10, 15]
main_flux_labels = ["0", "5.0•10<sup>−17</sup>", "1.0•10<sup>−16</sup>", "1.5•10<sup>−16</sup>"]
main_label_nudge = [8, 0, -1, -7]   # vertical pixel nudge of each label (keeps the end labels inside the frame)


def window(lam, flux, lo, hi):
    """Samples with lo <= lambda < hi."""
    pairs = [(l, f) for l, f in zip(lam, flux) if lo <= l < hi]
    return [p[0] for p in pairs], [p[1] for p in pairs]


def splice(*segments):
    lam, flux = [], []
    for seg_l, seg_f in segments:
        lam += list(seg_l)
        flux += list(seg_f)
    return lam, flux


# full observed spectrum and full model assembled from all segments
full_obs_lam, full_obs_flux = splice(
    (obs_blue_lam, obs_blue_flux),
    window(balmer_obs_lam, balmer_obs_flux, 3700, 4100),
    window(gband_obs_lam, gband_obs_flux, 4100, 4601),
    (obs_mid_lam, obs_mid_flux),
    window(mg_obs_lam, mg_obs_flux, 5000, 5501),
    (obs_5500_lam, obs_5500_flux),
    window(nad_obs_lam, nad_obs_flux, 5700, 6101),
    (obs_red_lam, obs_red_flux),
)
full_model_lam, full_model_flux = splice(
    (model_blue_lam, model_blue_flux),
    window(balmer_model_lam, balmer_model_flux, 3700, 4100),
    window(gband_model_lam, gband_model_flux, 4100, 4601),
    (model_mid_lam, model_mid_flux),
    window(mg_model_lam, mg_model_flux, 5000, 5501),
    (model_5500_lam, model_5500_flux),
    window(nad_model_lam, nad_model_flux, 5700, 6101),
    (model_red_lam, model_red_flux),
)

W, H = 1207, 1133
SERIF = "Liberation Serif, Times New Roman, serif"
GREEN = "rgb(16,150,16)"

fig = go.Figure()

# ---------------- main panel ----------------
fig.add_trace(go.Bar(x=mask_lam, y=mask_height, width=25, xaxis="x", yaxis="y",
                     marker=dict(color="rgba(0,0,0,0)", line=dict(color="black", width=1)),
                     showlegend=False))
fig.add_trace(go.Scatter(x=power_law_lam, y=power_law_flux, mode="lines", xaxis="x", yaxis="y",
                         line=dict(color=GREEN, width=1.3, shape="spline"), showlegend=False))
fig.add_trace(go.Scatter(x=young_pop_lam, y=young_pop_flux, mode="lines", xaxis="x", yaxis="y",
                         line=dict(color=GREEN, width=1.3), showlegend=False))
fig.add_trace(go.Scatter(x=old_pop_lam, y=old_pop_flux, mode="lines", xaxis="x", yaxis="y",
                         line=dict(color=GREEN, width=1.3), showlegend=False))
fig.add_trace(go.Scatter(x=full_obs_lam, y=full_obs_flux, mode="lines", xaxis="x", yaxis="y",
                         line=dict(color="black", width=1.2), showlegend=False))
fig.add_trace(go.Scatter(x=full_model_lam, y=full_model_flux, mode="lines", xaxis="x", yaxis="y",
                         line=dict(color="#ff0000", width=1.5), showlegend=False))

# ---------------- zoom panels ----------------
panels = [
    # axis id, observed, model
    ("2", balmer_obs_lam, balmer_obs_flux, balmer_model_lam, balmer_model_flux),
    ("3", nad_obs_lam, nad_obs_flux, nad_model_lam, nad_model_flux),
    ("4", gband_obs_lam, gband_obs_flux, gband_model_lam, gband_model_flux),
    ("5", mg_obs_lam, mg_obs_flux, mg_model_lam, mg_model_flux),
]
for ax, ol, of, ml, mf in panels:
    fig.add_trace(go.Scatter(x=ml, y=mf, mode="lines", xaxis="x" + ax, yaxis="y" + ax,
                             line=dict(color="black", width=1.3, dash="1px,3px"), showlegend=False))
    fig.add_trace(go.Scatter(x=ol, y=of, mode="lines", xaxis="x" + ax, yaxis="y" + ax,
                             line=dict(color="black", width=1.3), showlegend=False))


def px_x(px):
    return px / W


def px_y(py):
    return 1 - py / H


def frame_axis(domain, rng, anchor, font_size, major_len, minor_len, minor_dtick, standoff, **kw):
    d = dict(domain=domain, range=rng, anchor=anchor, automargin=False, showline=True, linecolor="black",
             linewidth=1.5, mirror="ticks", ticks="inside", ticklen=major_len, tickwidth=1.3, tickcolor="black",
             showgrid=False, zeroline=False, ticklabelstandoff=standoff, ticklabeloverflow="allow",
             tickfont=dict(family=SERIF, size=font_size, color="black", weight="bold"),
             minor=dict(ticks="inside", ticklen=minor_len, tickwidth=1.1, tickcolor="black",
                        dtick=minor_dtick, showgrid=False))
    d.update(kw)
    return d


def sci(mant, exp):
    return f"{mant}•10<sup>−{exp}</sup>"


layout = dict(
    width=W, height=H, margin=dict(l=0, r=0, t=0, b=0, autoexpand=False),
    paper_bgcolor="white", plot_bgcolor="white", showlegend=False, bargap=0,
)

# main panel axes (flux labels are placed as annotations below)
layout["xaxis"] = frame_axis([px_x(170), px_x(1141)], [2000, 10000], "y", 27, 20, 10, 500, 1,
                             tickmode="array", tickvals=[2000, 4000, 6000, 8000, 10000],
                             ticktext=["2000", "4000", "6000", "8000", "10000"])
layout["yaxis"] = frame_axis([px_y(455), px_y(12)], [0, 15], "x", 27, 20, 10, 1, 4,
                             tickmode="array", tickvals=main_flux_ticks, showticklabels=False)

left_dom = [px_x(82), px_x(578)]
right_dom = [px_x(684), px_x(1180)]
top_dom = [px_y(792), px_y(571)]
bot_dom = [px_y(1092), px_y(872)]

layout["xaxis2"] = frame_axis(left_dom, [3700, 4300], "y2", 13, 8, 4, 10, 6, dtick=100, tick0=3700)
layout["yaxis2"] = frame_axis(top_dom, [0, 3.0], "x2", 13, 8, 4, 0.1, 3,
                              tickmode="array", tickvals=[0, 0.5, 1.0, 1.5, 2.0, 2.5, 3.0],
                              ticktext=["0", sci("5.0", 18), sci("1.0", 17), sci("1.5", 17),
                                        sci("2.0", 17), sci("2.5", 17), sci("3.0", 17)])
layout["xaxis3"] = frame_axis(right_dom, [5700, 6100], "y3", 13, 8, 4, 10, 6, dtick=100, tick0=5700)
layout["yaxis3"] = frame_axis(top_dom, [0, 6], "x3", 13, 8, 4, 0.2, 3,
                              tickmode="array", tickvals=[0, 1, 2, 3, 4, 5, 6],
                              ticktext=["0"] + [sci(str(i), 17) for i in range(1, 7)])
layout["xaxis4"] = frame_axis(left_dom, [4100, 4600], "y4", 13, 8, 4, 10, 6, dtick=100, tick0=4100)
layout["yaxis4"] = frame_axis(bot_dom, [0, 4], "x4", 13, 8, 4, 0.2, 3,
                              tickmode="array", tickvals=[0, 1, 2, 3, 4],
                              ticktext=["0"] + [sci(str(i), 17) for i in range(1, 5)])
layout["xaxis5"] = frame_axis(right_dom, [5000, 5500], "y5", 13, 8, 4, 10, 6, dtick=100, tick0=5000)
layout["yaxis5"] = frame_axis(bot_dom, [0, 5], "x5", 13, 8, 4, 0.2, 3,
                              tickmode="array", tickvals=[0, 1, 2, 3, 4, 5],
                              ticktext=["0"] + [sci(str(i), 17) for i in range(1, 6)])


def label(text, px, py, size, angle=0):
    return dict(text=text, x=px_x(px), y=px_y(py), xref="paper", yref="paper",
                xanchor="center", yanchor="middle", showarrow=False, textangle=angle,
                font=dict(family=SERIF, size=size, color="black", weight="bold"))


annotations = [
    label("Rest wavelength (Angstroms)", 656, 510, 27),
    label("Flux", 40, 233, 27, -90),
    label("Balmer lines", 330, 558, 16),
    label("Na D", 932, 558, 16),
    label("G band", 330, 856, 16),
    label("Mg Ib band", 932, 856, 16),
    label("Rest wavelength", 330, 826, 14),
    label("Rest wavelength", 932, 826, 14),
    label("Rest wavelength", 330, 1124, 14),
    label("Rest wavelength", 932, 1124, 14),
    label("Flux", 14, 682, 14, -90),
    label("Flux", 627, 682, 14, -90),
    label("Flux", 25, 982, 14, -90),
    label("Flux", 627, 982, 14, -90),
]
# flux tick labels of the main panel, right-aligned against the frame
for val, txt, nudge in zip(main_flux_ticks, main_flux_labels, main_label_nudge):
    annotations.append(dict(text=txt, x=px_x(166), y=val, xref="paper", yref="y",
                            xanchor="right", yanchor="middle", yshift=nudge, showarrow=False,
                            font=dict(family=SERIF, size=27, color="black", weight="bold")))
layout["annotations"] = annotations

fig.update_layout(**layout)
fig.write_html("out.html")
